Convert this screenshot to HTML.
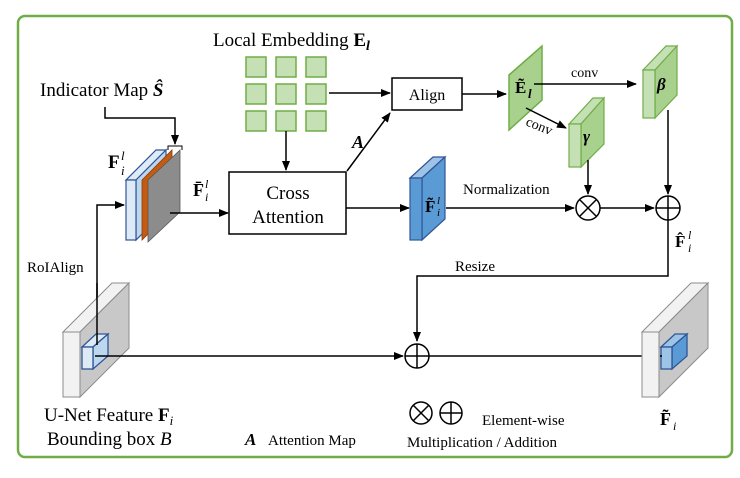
<!DOCTYPE html>
<html><head><meta charset="utf-8"><style>
html,body{margin:0;padding:0;background:#fff;}
svg{display:block;}
text{font-family:"Liberation Serif",serif;fill:#000;}
</style></head><body>
<svg width="740" height="478" viewBox="0 0 740 478" xmlns="http://www.w3.org/2000/svg">
<defs>
<marker id="ar" markerWidth="10" markerHeight="8" refX="9" refY="4" orient="auto" markerUnits="userSpaceOnUse">
<path d="M0,0 L10,4 L0,8 Z" fill="#000"/></marker>
</defs>
<rect x="18" y="16" width="714" height="441" rx="7" fill="#fff" stroke="#70ad47" stroke-width="2.5"/>

<!-- Local embedding -->
<text x="213" y="46" font-size="19">Local Embedding <tspan font-weight="bold">E</tspan><tspan font-weight="bold" font-style="italic" font-size="14" dy="4">l</tspan></text>
<g fill="#c5e0b4" stroke="#70ad47" stroke-width="1.5">
<rect x="246" y="57" width="20" height="20"/><rect x="276" y="57" width="20" height="20"/><rect x="306" y="57" width="20" height="20"/>
<rect x="246" y="84" width="20" height="20"/><rect x="276" y="84" width="20" height="20"/><rect x="306" y="84" width="20" height="20"/>
<rect x="246" y="111" width="20" height="20"/><rect x="276" y="111" width="20" height="20"/><rect x="306" y="111" width="20" height="20"/>
</g>
<line x1="329" y1="93" x2="390" y2="93" stroke="#000" stroke-width="1.5" marker-end="url(#ar)"/>
<rect x="392" y="78" width="70" height="32" fill="#fff" stroke="#000" stroke-width="1.5"/>
<text x="427" y="100" font-size="16" text-anchor="middle">Align</text>
<line x1="462" y1="94" x2="506" y2="94" stroke="#000" stroke-width="1.5" marker-end="url(#ar)"/>

<!-- Indicator map -->
<text x="40" y="96" font-size="19">Indicator Map <tspan font-weight="bold" font-style="italic">Ŝ</tspan></text>
<polyline points="105,107 105,118 175,118 175,144" fill="none" stroke="#000" stroke-width="1.5" marker-end="url(#ar)"/>
<path d="M168,150 L168,146 L182,146 L182,150" fill="none" stroke="#000" stroke-width="1"/>

<!-- F_i^l stack -->
<text x="108" y="168" font-size="19" font-weight="bold">F</text><text x="121" y="160" font-size="13" font-style="italic">l</text><text x="121" y="175" font-size="13" font-style="italic">i</text>
<polygon points="126,180 156,150 166,150 136,180" fill="#deebf7" stroke="#2f5597" stroke-width="1.2"/>
<polygon points="136,180 166,150 166,210 136,240" fill="#bdd7ee" stroke="#2f5597" stroke-width="1.2"/>
<rect x="126" y="180" width="10" height="60" fill="#deebf7" stroke="#2f5597" stroke-width="1.2"/>
<polygon points="142,180 172,150 172,210 142,240" fill="#c55a11" stroke="#843c0c" stroke-width="0.8"/>
<polygon points="148,180 180,150 180,212 148,242" fill="#8c8c8c" stroke="#555" stroke-width="0.8"/>
<line x1="170" y1="213" x2="228" y2="213" stroke="#000" stroke-width="1.5" marker-end="url(#ar)"/>
<text x="193" y="196" font-size="18" font-weight="bold">F̄</text><text x="205" y="188" font-size="12" font-style="italic">l</text><text x="205" y="201" font-size="12" font-style="italic">i</text>

<!-- Cross attention -->
<line x1="286" y1="131" x2="286" y2="170" stroke="#000" stroke-width="1.5" marker-end="url(#ar)"/>
<rect x="229" y="172" width="117" height="62" fill="#fff" stroke="#000" stroke-width="1.5"/>
<text x="288" y="199" font-size="19" text-anchor="middle">Cross</text>
<text x="288" y="223" font-size="19" text-anchor="middle">Attention</text>
<line x1="347" y1="171" x2="390" y2="113" stroke="#000" stroke-width="1.5" marker-end="url(#ar)"/>
<text x="352" y="148" font-size="18" font-weight="bold" font-style="italic">A</text>
<line x1="346" y1="208" x2="409" y2="208" stroke="#000" stroke-width="1.5" marker-end="url(#ar)"/>

<!-- F tilde i^l blue -->
<polygon points="410,178 433,157 445,157 422,178" fill="#9dc3e6" stroke="#2f5597" stroke-width="1.2"/>
<polygon points="422,178 445,157 445,219 422,240" fill="#5b9bd5" stroke="#2f5597" stroke-width="1.2"/>
<rect x="410" y="178" width="12" height="62" fill="#5b9bd5" stroke="#2f5597" stroke-width="1.2"/>
<text x="425" y="212" font-size="17" font-weight="bold">F̃</text><text x="437" y="204" font-size="11" font-style="italic">l</text><text x="437" y="216" font-size="11" font-style="italic">i</text>
<line x1="446" y1="208" x2="574" y2="208" stroke="#000" stroke-width="1.5" marker-end="url(#ar)"/>
<text x="463" y="194" font-size="15">Normalization</text>

<!-- E tilde l -->
<polygon points="509,75 542,46 542,100 509,130" fill="#a9d18e" stroke="#70ad47" stroke-width="1.5"/>
<text x="515" y="93" font-size="17" font-weight="bold">Ẽ</text><text x="528" y="98" font-size="13" font-style="italic" font-weight="bold">l</text>
<line x1="534" y1="84" x2="636" y2="84" stroke="#000" stroke-width="1.5" marker-end="url(#ar)"/>
<text x="571" y="77" font-size="14">conv</text>
<line x1="526" y1="108" x2="566" y2="128" stroke="#000" stroke-width="1.5" marker-end="url(#ar)"/>
<text x="525" y="125" font-size="14" transform="rotate(22 525 125)">conv</text>

<!-- beta -->
<polygon points="643,70 666,46 677,46 655,70" fill="#c5e0b4" stroke="#70ad47" stroke-width="1.2"/>
<polygon points="655,70 677,46 677,95 655,118" fill="#a9d18e" stroke="#70ad47" stroke-width="1.2"/>
<rect x="643" y="70" width="12" height="48" fill="#c5e0b4" stroke="#70ad47" stroke-width="1.2"/>
<text x="657" y="90" font-size="17" font-weight="bold" font-style="italic">β</text>
<!-- gamma -->
<polygon points="569,124 593,98 604,98 581,124" fill="#c5e0b4" stroke="#70ad47" stroke-width="1.2"/>
<polygon points="581,124 604,98 604,144 581,167" fill="#a9d18e" stroke="#70ad47" stroke-width="1.2"/>
<rect x="569" y="124" width="12" height="43" fill="#c5e0b4" stroke="#70ad47" stroke-width="1.2"/>
<text x="583" y="142" font-size="17" font-weight="bold" font-style="italic">γ</text>

<line x1="588" y1="160" x2="588" y2="194" stroke="#000" stroke-width="1.5" marker-end="url(#ar)"/>
<line x1="668" y1="110" x2="668" y2="194" stroke="#000" stroke-width="1.5" marker-end="url(#ar)"/>
<g fill="#fff" stroke="#000" stroke-width="1.5">
<circle cx="588" cy="208" r="12"/><line x1="580" y1="200" x2="596" y2="216"/><line x1="596" y1="200" x2="580" y2="216"/>
<circle cx="668" cy="208" r="12"/><line x1="656" y1="208" x2="680" y2="208"/><line x1="668" y1="196" x2="668" y2="220"/>
</g>
<line x1="600" y1="208" x2="654" y2="208" stroke="#000" stroke-width="1.5" marker-end="url(#ar)"/>
<text x="675" y="247" font-size="17" font-weight="bold">F̂</text><text x="688" y="239" font-size="12" font-style="italic">l</text><text x="688" y="252" font-size="12" font-style="italic">i</text>

<polyline points="668,220 668,276 417,276 417,341" fill="none" stroke="#000" stroke-width="1.5" marker-end="url(#ar)"/>
<text x="455" y="271" font-size="15">Resize</text>

<!-- RoIAlign -->
<text x="27" y="272" font-size="15">RoIAlign</text>
<polyline points="97,345 97,205 124,205" fill="none" stroke="#000" stroke-width="1.5" marker-end="url(#ar)"/>

<!-- U-Net slab -->
<g id="slab">
<polygon points="63,332 112,283 129,283 80,332" fill="#f2f2f2" stroke="#8c8c8c" stroke-width="1"/>
<polygon points="80,332 129,283 129,348 80,397" fill="#c8c8c8" stroke="#8c8c8c" stroke-width="1"/>
<rect x="63" y="332" width="17" height="65" fill="#f2f2f2" stroke="#8c8c8c" stroke-width="1"/>
</g>
<polygon points="82,347 96,334 108,334 93,347" fill="#deebf7" stroke="#2f5597" stroke-width="1.3"/>
<polygon points="93,347 108,334 108,356 93,369" fill="#bdd7ee" stroke="#2f5597" stroke-width="1.3"/>
<rect x="82" y="347" width="11" height="22" fill="#deebf7" stroke="#2f5597" stroke-width="1.3"/>
<line x1="97" y1="283" x2="97" y2="345" stroke="#000" stroke-width="1.5"/>

<line x1="95" y1="356" x2="403" y2="356" stroke="#000" stroke-width="1.5" marker-end="url(#ar)"/>
<g fill="#fff" stroke="#000" stroke-width="1.5">
<circle cx="417" cy="356" r="12"/><line x1="405" y1="356" x2="429" y2="356"/><line x1="417" y1="344" x2="417" y2="368"/>
</g>
<line x1="429" y1="356" x2="660" y2="356" stroke="#000" stroke-width="1.5" marker-end="url(#ar)"/>

<!-- right slab -->
<g transform="translate(579,0)">
<polygon points="63,332 112,283 129,283 80,332" fill="#f2f2f2" stroke="#8c8c8c" stroke-width="1"/>
<polygon points="80,332 129,283 129,348 80,397" fill="#c8c8c8" stroke="#8c8c8c" stroke-width="1"/>
<rect x="63" y="332" width="17" height="65" fill="#f2f2f2" stroke="#8c8c8c" stroke-width="1"/>
<polygon points="82,347 96,334 108,334 93,347" fill="#9dc3e6" stroke="#2f5597" stroke-width="1.3"/>
<polygon points="93,347 108,334 108,356 93,369" fill="#5b9bd5" stroke="#2f5597" stroke-width="1.3"/>
<rect x="82" y="347" width="11" height="22" fill="#9dc3e6" stroke="#2f5597" stroke-width="1.3"/>
</g>
<line x1="660" y1="356" x2="662" y2="356" stroke="#000" stroke-width="1.5"/>

<!-- bottom texts -->
<text x="44" y="421" font-size="19">U-Net Feature <tspan font-weight="bold">F</tspan><tspan font-style="italic" font-size="13" dy="4">i</tspan></text>
<text x="47" y="445" font-size="19">Bounding box <tspan font-style="italic">B</tspan></text>
<text x="245" y="445" font-size="17" font-weight="bold" font-style="italic">A</text>
<text x="268" y="445" font-size="15">Attention Map</text>
<g fill="#fff" stroke="#000" stroke-width="1.5">
<circle cx="421" cy="413" r="11"/><line x1="413" y1="405" x2="429" y2="421"/><line x1="429" y1="405" x2="413" y2="421"/>
<circle cx="451" cy="413" r="11"/><line x1="440" y1="413" x2="462" y2="413"/><line x1="451" y1="402" x2="451" y2="424"/>
</g>
<text x="482" y="425" font-size="15">Element-wise</text>
<text x="407" y="447" font-size="15">Multiplication / Addition</text>
<text x="660" y="425" font-size="18" font-weight="bold">F̃</text><text x="673" y="430" font-size="12" font-style="italic">i</text>
</svg>
</body></html>
